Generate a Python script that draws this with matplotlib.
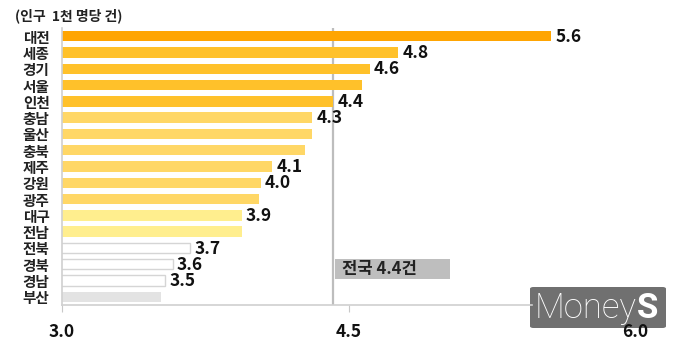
import matplotlib.pyplot as plt
from matplotlib.patches import Rectangle, FancyBboxPatch

plt.rcParams['font.family'] = ['Noto Sans CJK KR', 'DejaVu Sans']

# 시도별 인구 1천 명당 건수
regions = ['대전', '세종', '경기', '서울', '인천', '충남', '울산', '충북', '제주',
           '강원', '광주', '대구', '전남', '전북', '경북', '경남', '부산']
values = [5.56, 4.76, 4.61, 4.57, 4.42, 4.31, 4.31, 4.27, 4.10,
          4.04, 4.03, 3.94, 3.94, 3.67, 3.58, 3.54, 3.52]
labeled = ['대전', '세종', '경기', '인천', '충남', '제주', '강원', '대구',
           '전북', '경북', '경남']
national = 4.42
national_text = '전국 4.4건'
xticks = [3.0, 4.5, 6.0]

colors = (['#FFA502'] + ['#FFC12A'] * 4 + ['#FFD766'] * 6 + ['#FFEE8E'] * 2
          + ['#FFFFFF'] * 3 + ['#E3E3E3'])
edges = ['none'] * 13 + ['#D5D5D5'] * 3 + ['none']

fig = plt.figure(figsize=(6.8, 3.45), dpi=100)
ax = fig.add_axes([62 / 680, 1 - 305 / 345, (635 - 62) / 680, (305 - 28) / 345])
ax.set_zorder(10)
ax.patch.set_alpha(0)

ypos = list(range(len(regions)))
ax.barh(ypos, values, height=0.64, left=0, color=colors, edgecolor=edges,
        linewidth=1.0, zorder=2)
ax.set_xlim(3.0, 6.0)
ax.set_ylim(len(regions) - 0.5, -0.5)

# 전국 평균선
ax.axvline(national, color='#BDBDBD', linewidth=1.6, zorder=1)

for y, name, v in zip(ypos, regions, values):
    if name in labeled:
        ax.annotate('%.1f' % v, (v, y), xytext=(3, -0.5), textcoords='offset points',
                    ha='left', va='center', fontsize=12.5, fontweight='bold',
                    color='#111111', zorder=3)

ax.add_patch(Rectangle((national + 0.01, 13.68), 0.6, 1.22,
                       facecolor='#BEBEBE', edgecolor='none', zorder=3))
ax.text(national + 0.045, 14.3, national_text, ha='left', va='center',
        fontsize=12, fontweight='bold', color='#222222', zorder=4)

ax.set_yticks(ypos)
ax.set_yticklabels(regions, fontsize=10.5, fontweight='bold', color='#222222')
ax.tick_params(axis='y', length=0, pad=9)
ax.set_xticks(xticks)
ax.set_xticklabels(['%.1f' % t for t in xticks], fontsize=12.5,
                   fontweight='bold', color='#111111')
ax.tick_params(axis='x', length=5, color='#C8C8C8', pad=8)
ax.xaxis.get_major_ticks()[-1].tick1line.set_visible(False)

for side in ['top', 'right']:
    ax.spines[side].set_visible(False)
for side in ['left', 'bottom']:
    ax.spines[side].set_color('#D0D0D0')
    ax.spines[side].set_linewidth(1.2)
ax.spines['bottom'].set_bounds(3.0, 5.46)

fig.text(15 / 680, 1 - 16 / 345, '(인구  1천 명당 건)', fontsize=10,
         fontweight='bold', color='#222222', va='center', ha='left')

# 워터마크
wm = FancyBboxPatch((530 / 680, 1 - 328 / 345), 136 / 680, 41 / 345,
                    boxstyle='round,pad=0,rounding_size=0.005',
                    transform=fig.transFigure, facecolor='#707070',
                    edgecolor='none', zorder=5)
fig.patches.append(wm)
t = fig.text(535 / 680, 1 - 308 / 345, 'Money', fontsize=25, family='Roboto',
             fontweight='light', color='white', va='center', ha='left', zorder=6)
fig.canvas.draw()
bb = t.get_window_extent()
fig.text(bb.x1 / 680, 1 - 308 / 345, 'S', fontsize=25, family='Roboto',
         fontweight='bold', color='white', va='center', ha='left', zorder=6)

fig.savefig('out.png', dpi=100, facecolor='white')
